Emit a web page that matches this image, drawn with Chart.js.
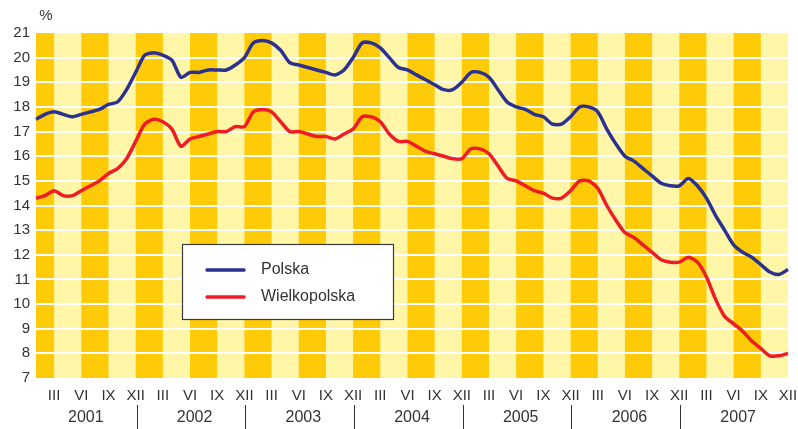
<!DOCTYPE html>
<html>
<head>
<meta charset="utf-8">
<script src="https://cdn.jsdelivr.net/npm/chart.js@4.4.1/dist/chart.umd.min.js"></script>
<style>
  html, body { margin: 0; padding: 0; background: #fff; }
  #wrap { width: 798px; height: 429px; }
</style>
</head>
<body>
<div id="wrap"><canvas id="c" width="798" height="429"></canvas></div>
<script>
const monthNames = ['I','II','III','IV','V','VI','VII','VIII','IX','X','XI','XII'];
const years = ['2001','2002','2003','2004','2005','2006','2007'];
const yTicks = [7,8,9,10,11,12,13,14,15,16,17,18,19,20,21];
const seriesNames = ['Polska','Wielkopolska'];

const polska = [
  17.5,17.7,17.8,17.7,17.6,17.7,17.8,17.9,18.1,18.2,18.7,19.4,
  20.1,20.2,20.1,19.9,19.2,19.4,19.4,19.5,19.5,19.5,19.7,20.0,
  20.6,20.7,20.6,20.3,19.8,19.7,19.6,19.5,19.4,19.3,19.5,20.0,
  20.6,20.6,20.4,20.0,19.6,19.5,19.3,19.1,18.9,18.7,18.7,19.0,
  19.4,19.4,19.2,18.7,18.2,18.0,17.9,17.7,17.6,17.3,17.3,17.6,
  18.0,18.0,17.8,17.1,16.5,16.0,15.8,15.5,15.2,14.9,14.8,14.8,
  15.1,14.8,14.3,13.6,13.0,12.4,12.1,11.9,11.6,11.3,11.2,11.4
];
const wielkopolska = [
  14.3,14.4,14.6,14.4,14.4,14.6,14.8,15.0,15.3,15.5,15.9,16.6,
  17.3,17.5,17.4,17.1,16.4,16.7,16.8,16.9,17.0,17.0,17.2,17.2,
  17.8,17.9,17.8,17.4,17.0,17.0,16.9,16.8,16.8,16.7,16.9,17.1,
  17.6,17.6,17.4,16.9,16.6,16.6,16.4,16.2,16.1,16.0,15.9,15.9,
  16.3,16.3,16.1,15.6,15.1,15.0,14.8,14.6,14.5,14.3,14.3,14.6,
  15.0,15.0,14.7,14.0,13.4,12.9,12.7,12.4,12.1,11.8,11.7,11.7,
  11.9,11.7,11.1,10.2,9.5,9.2,8.9,8.5,8.2,7.9,7.9,8.0
];

const labels = [];
years.forEach(() => monthNames.forEach(m => labels.push(m)));

const ORANGE = '#FFCA08';
const YELLOW = '#FFF6A8';
const TEXT = '#333333';
Chart.defaults.font.family = '"Liberation Sans", Arial, Helvetica, sans-serif';

const stripes = {
  id: 'stripes',
  beforeDraw(chart) {
    const { ctx, chartArea: a, scales: { x } } = chart;
    ctx.save();
    ctx.fillStyle = YELLOW;
    ctx.fillRect(a.left, a.top, a.right - a.left, a.bottom - a.top);
    ctx.fillStyle = ORANGE;
    for (let s = -1; s < labels.length; s += 6) {
      const x0 = Math.max(a.left, x.getPixelForValue(s));
      const x1 = Math.min(a.right, x.getPixelForValue(s + 3));
      if (x1 > x0) ctx.fillRect(x0, a.top, x1 - x0, a.bottom - a.top);
    }
    ctx.restore();
  }
};

const extras = {
  id: 'extras',
  afterDraw(chart) {
    const { ctx, chartArea: a, scales: { x } } = chart;
    ctx.save();
    ctx.fillStyle = TEXT;
    ctx.font = '15px "Liberation Sans", Arial, sans-serif';
    ctx.textAlign = 'center';
    ctx.textBaseline = 'middle';
    ctx.fillText('%', 46, 16);
    ctx.font = '16px "Liberation Sans", Arial, sans-serif';
    years.forEach((yr, k) => {
      const cx = x.getPixelForValue(12 * k + 5.5);
      ctx.fillText(yr, cx, 418);
      if (k < years.length - 1) {
        const sx = Math.round(x.getPixelForValue(12 * k + 11.1)) + 0.5;
        ctx.strokeStyle = TEXT;
        ctx.lineWidth = 1;
        ctx.beginPath();
        ctx.moveTo(sx, 405);
        ctx.lineTo(sx, 429);
        ctx.stroke();
      }
    });
    const bx = 182.5, by = 244.5, bw = 211, bh = 75;
    ctx.fillStyle = '#ffffff';
    ctx.fillRect(bx, by, bw, bh);
    ctx.strokeStyle = '#3a3a3a';
    ctx.lineWidth = 1.2;
    ctx.strokeRect(bx, by, bw, bh);
    const rows = [270, 297];
    chart.data.datasets.forEach((ds, i) => {
      const yy = rows[i];
      ctx.strokeStyle = ds.borderColor;
      ctx.lineWidth = 3.5;
      ctx.lineCap = 'round';
      ctx.beginPath();
      ctx.moveTo(207, yy);
      ctx.lineTo(244, yy);
      ctx.stroke();
      ctx.fillStyle = TEXT;
      ctx.font = '16px "Liberation Sans", Arial, sans-serif';
      ctx.textAlign = 'left';
      ctx.textBaseline = 'middle';
      ctx.fillText(ds.label, 261, yy);
    });
    ctx.restore();
  }
};

new Chart(document.getElementById('c'), {
  type: 'line',
  data: {
    labels: labels,
    datasets: [
      { label: seriesNames[0], data: polska, borderColor: '#2B3190', borderWidth: 3.5, pointRadius: 0, tension: 0.25, fill: false },
      { label: seriesNames[1], data: wielkopolska, borderColor: '#EE1C25', borderWidth: 3.5, pointRadius: 0, tension: 0.25, fill: false }
    ]
  },
  options: {
    responsive: false,
    animation: false,
    devicePixelRatio: 1,
    layout: { padding: { top: 33, right: 0, left: 0, bottom: 0 } },
    scales: {
      x: {
        type: 'category',
        offset: false,
        grid: { display: false, drawTicks: false },
        border: { display: false },
        ticks: {
          autoSkip: false, maxRotation: 0, minRotation: 0,
          font: { size: 15 }, color: TEXT, padding: 9,
          callback: function (v, i) { return (i % 3 === 2) ? labels[i] : ''; }
        },
        afterFit: s => { s.height = 51; s.paddingRight = 10; s.paddingLeft = 0; }
      },
      y: {
        min: yTicks[0], max: yTicks[yTicks.length - 1],
        afterBuildTicks: s => { s.ticks = yTicks.map(v => ({ value: v })); },
        ticks: { font: { size: 15 }, color: TEXT, padding: 6 },
        grid: {
          drawTicks: false, lineWidth: 2,
          color: c => (c.tick && (c.tick.value === yTicks[0] || c.tick.value === yTicks[yTicks.length - 1])) ? 'rgba(0,0,0,0)' : '#ffffff'
        },
        border: { display: false },
        afterFit: s => { s.width = 36; }
      }
    },
    plugins: { legend: { display: false }, tooltip: { enabled: false } }
  },
  plugins: [stripes, extras]
});
</script>
</body>
</html>
